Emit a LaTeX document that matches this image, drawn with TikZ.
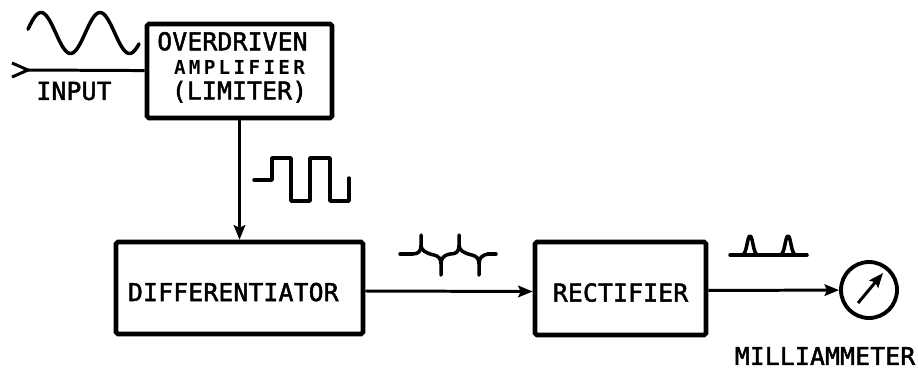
\documentclass[tikz,border=0pt]{standalone}
\usepackage{fontspec}
\newfontfamily\blocktext[LetterSpace=1,FakeBold=2]{DejaVu Sans Mono}
\newfontfamily\smalltext[LetterSpace=17]{DejaVu Sans Mono}
\usepackage{tikz}
\usetikzlibrary{arrows.meta}

\begin{document}
\begin{tikzpicture}[
  x=0.02cm, y=-0.02cm,
  block/.style={rectangle, rounded corners=1pt, draw=black, fill=white, line width=2.6pt,
                text=black, font=\blocktext\fontsize{14}{14}\selectfont, align=center, inner sep=0pt},
  arr/.style={-{Stealth[length=2.9mm, width=2.3mm, inset=0.5mm]}, line width=1.7pt, color=black},
  wire/.style={line width=1.7pt, color=black},
  wave/.style={line width=2pt, color=black, line cap=round, line join=round},
  lbl/.style={font=\blocktext\fontsize{14}{14}\selectfont, color=black, inner sep=0pt},
]
  \useasboundingbox (0,0) rectangle (918,370);

  % Nodes
  \node[block, minimum width=3.7cm, minimum height=1.88cm, text depth=6pt] (amp) at (239.5,71)
    {OVERDRIVEN\kern8pt\\{\smalltext\bfseries\fontsize{11}{14}\selectfont AMPLIFIER}\\(LIMITER)};
  \node[block, minimum width=4.94cm, minimum height=1.84cm, text height=14.8pt, text depth=0pt] (diff) at (239.5,288)
    {DIFFERENTIATOR\hspace{7pt}};
  \node[block, minimum width=3.42cm, minimum height=1.86cm, text height=14.8pt, text depth=0pt] (rect) at (620.5,288.5) {RECTIFIER};
  \node[circle, draw=black, fill=white, line width=2.2pt, minimum size=1.12cm, inner sep=0pt] (meter) at (869,290) {};
  \node[lbl] (input) at (74,91) {INPUT};
  \node[lbl] (mlabel) at (825,356) {MILLIAMMETER};

  % Free ends
  \coordinate (intip) at (28,70);
  \coordinate (inupper) at (12,63);
  \coordinate (inlower) at (12,77);
  \coordinate (needlefoot) at (858,303);
  \coordinate (needletip) at (883,273);

  % Arrows
  \draw[wire] (inupper) -- (intip) -- (inlower);
  \draw[wire] (intip) -- (amp);
  \draw[arr] (amp) -- (diff);
  \draw[arr] ([yshift=-1.7pt]diff.east) -- ([yshift=-1.7pt]rect.west);
  \draw[arr] ([yshift=-1.1pt]rect.east) -- (meter);
  \draw[arr] (needlefoot) -- (needletip);

  % Waveforms
  \draw[wave] plot[domain=28:139, samples=70] (\x,{33-20.5*cos((\x-41)*6.1017)});
  \draw[wave] (254,180) -- (272,180) -- (272,158) -- (291,158) -- (291,201) -- (310,201)
    -- (310,158) -- (330,158) -- (330,201) -- (349,201) -- (349,178);
  \draw[wave] (400,254) -- (412,254);
  \foreach \xs in {0,38} {
    \draw[wave, xshift=\xs*0.02cm] (412,254) .. controls (418,254) and (421,252) .. (421,245) -- (421,235)
      -- (421,245) .. controls (421,250) and (425,253) .. (434,255)
      .. controls (438,256) and (441,258) .. (441,264) -- (441,275)
      -- (441,264) .. controls (441,258) and (444,255) .. (450,254);
  }
  \draw[wave] (488,254) -- (496,254);
  \draw[wave] (730,255) -- (807,255);
  \foreach \xs in {750,788} {
    \draw[wave, xshift=\xs*0.02cm] (-8,255) .. controls (-3,255) and (-3,236) .. (0,236)
      .. controls (3,236) and (3,255) .. (8,255);
  }
\end{tikzpicture}
\end{document}
